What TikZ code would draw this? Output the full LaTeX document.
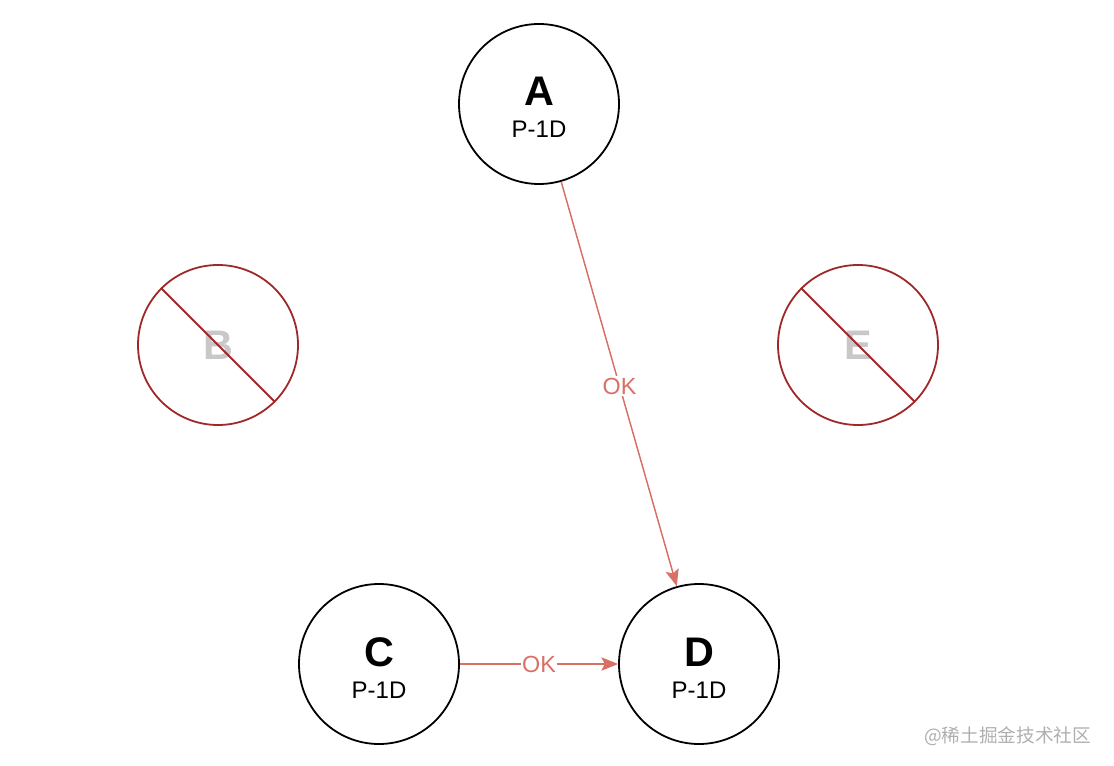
\documentclass[tikz,border=0pt]{standalone}
\usepackage{fontspec}
\setmainfont{Liberation Sans}
\newfontfamily\cjk{Noto Sans CJK SC}
\usetikzlibrary{arrows.meta,positioning}
\definecolor{okred}{RGB}{217,112,102}
\definecolor{downred}{RGB}{160,40,40}
\definecolor{fadegray}{RGB}{200,200,200}
\definecolor{markgray}{RGB}{175,175,175}
\tikzset{
  peer/.style={circle, draw=black, line width=1.35pt, minimum size=120pt,
    inner sep=0pt, align=center, font=\fontsize{18}{24}\selectfont, fill=white},
  downpeer/.style={circle, draw=downred, line width=1.35pt, minimum size=120pt,
    inner sep=0pt, text=fadegray, font=\fontsize{31}{31}\selectfont\bfseries},
  crossline/.style={draw=downred, line width=1.35pt},
  okflow/.style={-{Stealth[length=12.5pt, width=10pt, inset=2.5pt]}, draw=okred, line width=1.1pt},
  oklabel/.style={fill=white, text=okred, inner sep=1pt, font=\fontsize{17.5}{17.5}\selectfont}
}
\newcommand{\peername}[1]{{\fontsize{31}{31}\selectfont\bfseries\rule{0pt}{27pt}#1}}

\begin{document}
\begin{tikzpicture}[x=0.75pt, y=-0.75pt]
\useasboundingbox (0,0) rectangle (1114,766);

\node[peer] (A) at (539,104) {\peername{A}\\P-1D};
\node[downpeer] (B) at (218,345) {B};
\node[downpeer] (E) at (858,345) {E};
\node[peer] (C) at (379,664) {\peername{C}\\P-1D};
\node[peer] (D) at (699,664) {\peername{D}\\P-1D};

% peers that are down
\draw[crossline] (B.135) -- (B.-45);
\draw[crossline] (E.135) -- (E.-45);

\draw[okflow] (A) -- node[oklabel, pos=0.505] {OK} (D);
\draw[okflow] (C) -- node[oklabel] {OK} (D);

\node[text=markgray, font=\cjk\fontsize{14}{14}\selectfont, anchor=east]
  (mark) at (1096,736) {@稀土掘金技术社区};
\end{tikzpicture}
\end{document}
